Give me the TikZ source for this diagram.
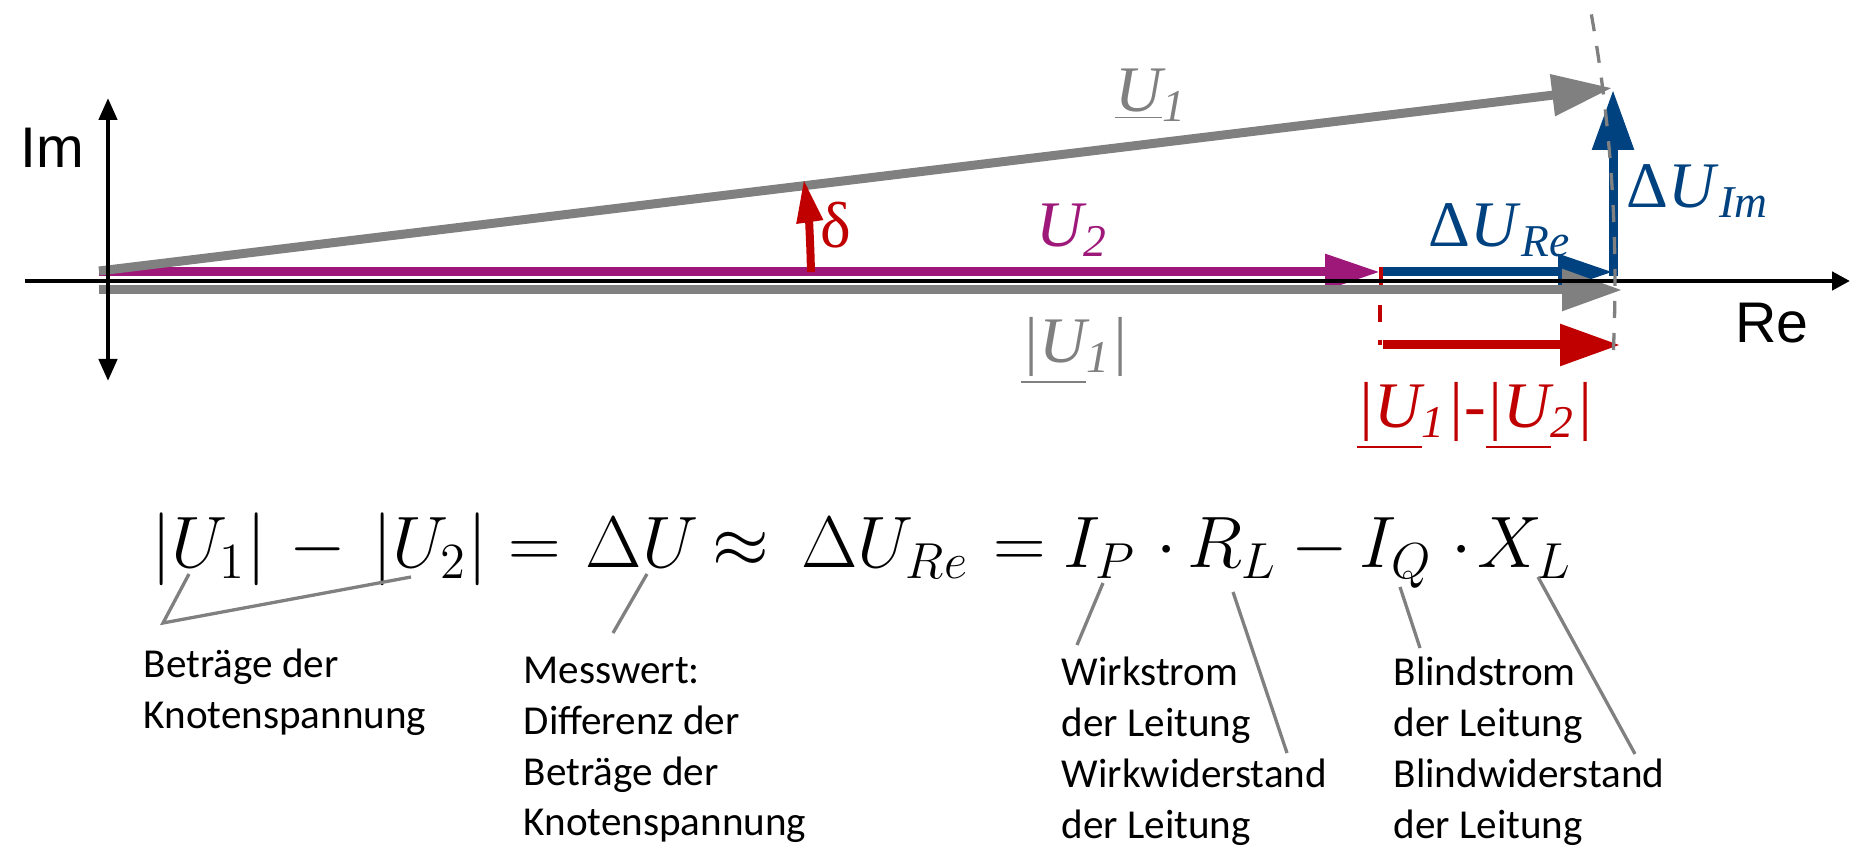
\documentclass[tikz,border=0pt]{standalone}
\usepackage[no-math]{fontspec}
\setmainfont{Carlito}
\newfontfamily\timesfont{Liberation Serif}
\newfontfamily\arialfont{Liberation Sans}
\usetikzlibrary{arrows.meta}
\definecolor{phgray}{RGB}{128,128,128}
\definecolor{phviolet}{RGB}{158,24,122}
\definecolor{phblue}{RGB}{0,65,128}
\definecolor{phred}{RGB}{192,0,0}

\begin{document}
\begin{tikzpicture}[scale=1.0,
  phasor/.style={line width=0.09cm, -{Triangle[length=0.6cm, width=0.4cm]}},
  shorthead/.style={line width=0.09cm, -{Triangle[length=0.55cm, width=0.34cm]}},
  reaxis/.style={line width=0.045cm, black},
  leader/.style={line width=0.033cm, phgray},
  eqtok/.style={anchor=base, inner sep=0pt, font=\fontsize{22.5}{27}\selectfont},
  plabel/.style={anchor=base, inner sep=0pt, font=\timesfont\fontsize{18.5}{22}\selectfont},
  axlabel/.style={inner sep=0pt, font=\arialfont\fontsize{16.3}{19}\selectfont},
  note/.style={anchor=north west, inner sep=0pt, align=left, font=\fontsize{11.7}{14.5}\selectfont}]

  \useasboundingbox (-0.99,-5.83) rectangle (17.52,2.81);

  % -- Phasors --
  \draw[shorthead, phviolet] (0,0.09) -- (12.81,0.09);
  \draw[phasor, phgray] (0,0.10) -- (15.13,1.93);
  \draw[shorthead, phblue] (12.84,0.09) -- (15.14,0.09);
  \draw[phasor, phblue] (15.14,0.05) -- (15.14,1.91);
  \draw[phasor, phgray] (0,-0.09) -- (15.23,-0.09);

  % -- Magnitude difference --
  \draw[line width=0.035cm, phred] (12.82,0.14) -- (12.82,-0.04);
  \draw[line width=0.04cm, phred, dash pattern=on 0.17cm off 0.18cm] (12.81,-0.24) -- (12.81,-0.64);
  \draw[phasor, phred] (12.84,-0.64) -- (15.21,-0.64);

  % -- Load angle --
  \draw[line width=0.08cm, phred, -{Triangle[length=0.43cm, width=0.25cm]}]
    (0.72:7.12) arc[start angle=0.72, end angle=8.2, radius=7.12];

  % -- Axes --
  \draw[reaxis, -{Triangle[length=0.18cm, width=0.18cm]}] (-0.74,0) -- (17.51,0);
  \draw[reaxis, {Triangle[length=0.22cm, width=0.18cm]}-{Triangle[length=0.22cm, width=0.18cm]}] (0.09,-1.00) -- (0.09,1.83);
  \node[axlabel] (imlbl) at (-0.47,1.33) {Im};
  \node[axlabel] (relbl) at (16.73,-0.42) {Re};

  % -- Circle of constant |U1| --
  \draw[line width=0.033cm, phgray, dash pattern=on 0.17cm off 0.15cm]
    (10.13:15.16) arc[start angle=10.13, end angle=-2.86, radius=15.16];

  % Phasor labels
  \node[plabel, phgray] (lblU1) at (10.52,1.69) {\itshape\underline{U}\textsubscript{1}};
  \node[plabel, phviolet] (lblU2) at (9.73,0.34) {\itshape U\textsubscript{2}};
  \node[plabel, phgray] (lblAbs) at (9.76,-0.82) {\itshape\underline{|U}\textsubscript{1}|};
  \node[plabel, phred] (lblDelta) at (7.37,0.33) {δ};
  \node[plabel, phblue] (lblRe) at (14.01,0.34) {Δ\textit{U}\textsubscript{\textit{Re}}};
  \node[plabel, phblue] (lblIm) at (15.99,0.73) {Δ\textit{U}\textsubscript{\textit{Im}}};
  \node[plabel, phred] (lblDiff) at (13.76,-1.47) {\itshape\underline{|U}\textsubscript{1}|-\underline{|U}\textsubscript{2}|};

  % -- Equation --
  \node[eqtok] (u1) at (1.10,-2.87) {$|U_1|$};
  \node[eqtok] (min1) at (2.19,-2.87) {$-$};
  \node[eqtok] (u2) at (3.31,-2.87) {$|U_2|$};
  \node[eqtok] (eq1) at (4.36,-2.87) {$=$};
  \node[eqtok] (du) at (5.43,-2.87) {$\Delta U$};
  \node[eqtok] (approx) at (6.42,-2.87) {$\approx$};
  \node[eqtok] (dure) at (7.86,-2.87) {$\Delta U_{Re}$};
  \node[eqtok] (eq2) at (9.21,-2.87) {$=$};
  \node[eqtok] (ip) at (10.01,-2.87) {$I_P$};
  \node[eqtok] (dot1) at (10.68,-2.87) {$\cdot$};
  \node[eqtok] (rl) at (11.33,-2.87) {$R_L$};
  \node[eqtok] (min2) at (12.21,-2.87) {$-$};
  \node[eqtok] (iq) at (12.97,-2.87) {$I_Q$};
  \node[eqtok] (dot2) at (13.63,-2.87) {$\cdot$};
  \node[eqtok] (xl) at (14.26,-2.87) {$X_L$};

  % -- Explanations --
  \node[note] (betr) at (0.44,-3.67) {Beträge der\\Knotenspannung};
  \node[note] (mess) at (4.24,-3.75) {Messwert:\\Differenz der\\Beträge der\\Knotenspannung};
  \node[note] (wirk) at (9.62,-3.75) {Wirkstrom\\der Leitung\\Wirkwiderstand\\der Leitung};
  \node[note] (blind) at (12.94,-3.75) {Blindstrom\\der Leitung\\Blindwiderstand\\der Leitung};

  % Leader lines
  \coordinate (vtx) at (0.64,-3.42);
  \coordinate (endDU) at (5.14,-3.52);
  \coordinate (endIP) at (9.78,-3.64);
  \coordinate (endRL) at (11.88,-4.72);
  \coordinate (endIQ) at (13.21,-3.67);
  \coordinate (endXL) at (15.36,-4.73);
  \draw[leader] ([shift={(-0.2,-0.06)}]u1.base) -- (vtx) -- ([shift={(-0.19,-0.09)}]u2.base);
  \draw[leader] ([shift={(0.05,-0.06)}]du.base) -- (endDU);
  \draw[leader] ([shift={(0.03,-0.15)}]ip.base) -- (endIP);
  \draw[leader] ([shift={(0.01,-0.24)}]rl.base) -- (endRL);
  \draw[leader] ([shift={(0.04,-0.19)}]iq.base) -- (endIQ);
  \draw[leader] ([shift={(0.13,-0.09)}]xl.base) -- (endXL);

\end{tikzpicture}
\end{document}
